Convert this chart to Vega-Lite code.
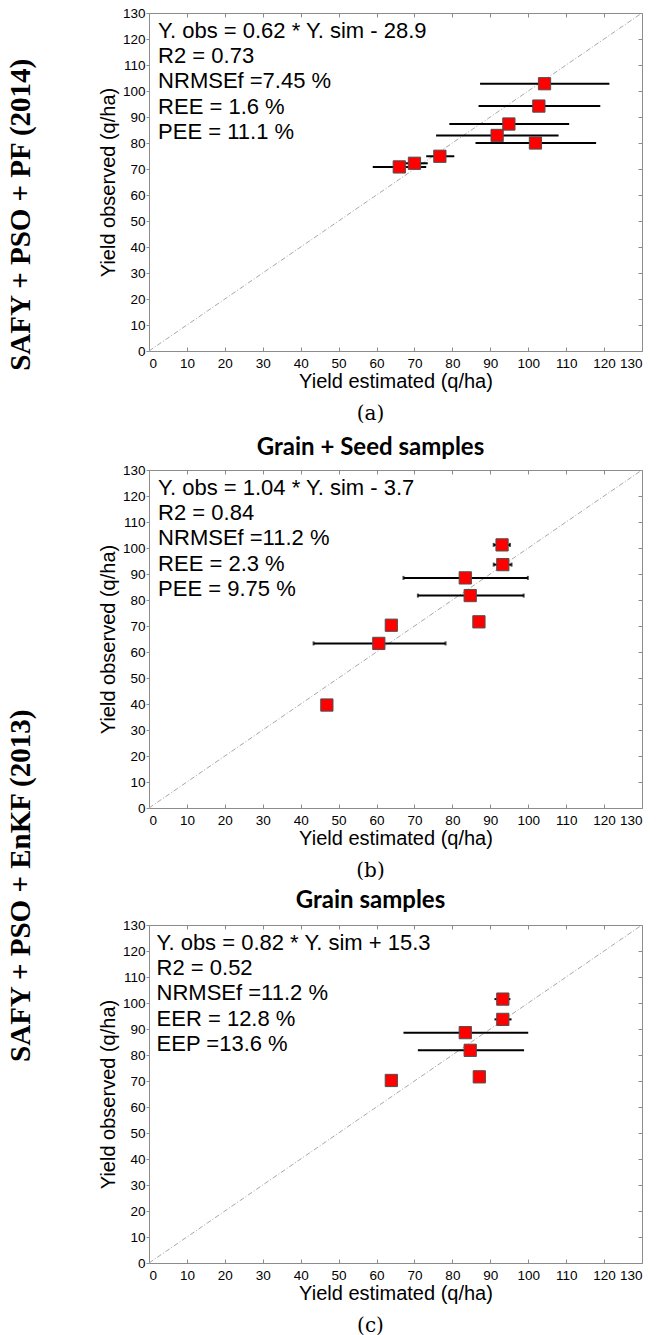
{
  "$schema": "https://vega.github.io/schema/vega-lite/v6.json",
  "padding": {"left": 6, "top": 5, "right": 5, "bottom": 2},
  "background": "white",
  "datasets": {
    "a": [
      {"est": 104.3, "obs": 102.8, "lo": 87.3, "hi": 121.4},
      {"est": 102.8, "obs": 94.2, "lo": 86.9, "hi": 119.0},
      {"est": 94.9, "obs": 87.3, "lo": 79.2, "hi": 110.8},
      {"est": 91.8, "obs": 82.9, "lo": 75.7, "hi": 108.0},
      {"est": 101.9, "obs": 80.0, "lo": 86.1, "hi": 117.9},
      {"est": 76.7, "obs": 74.9, "lo": 73.1, "hi": 80.5},
      {"est": 70.0, "obs": 72.2, "lo": 66.5, "hi": 73.5},
      {"est": 66.0, "obs": 70.8, "lo": 59.0, "hi": 73.1}
    ],
    "b": [
      {"est": 93.1, "obs": 101.2, "lo": 90.9, "hi": 95.2},
      {"est": 93.3, "obs": 93.6, "lo": 90.9, "hi": 95.6},
      {"est": 83.4, "obs": 88.5, "lo": 67.1, "hi": 99.9},
      {"est": 84.7, "obs": 81.7, "lo": 70.9, "hi": 98.8},
      {"est": 87.0, "obs": 71.6, "lo": null, "hi": null},
      {"est": 63.9, "obs": 70.3, "lo": null, "hi": null},
      {"est": 60.6, "obs": 63.3, "lo": 43.4, "hi": 78.2},
      {"est": 46.9, "obs": 39.6, "lo": null, "hi": null}
    ],
    "c": [
      {"est": 93.3, "obs": 101.5, "lo": 91.1, "hi": 95.3},
      {"est": 93.3, "obs": 93.7, "lo": 91.1, "hi": 95.6},
      {"est": 83.4, "obs": 88.6, "lo": 67.1, "hi": 100.0},
      {"est": 84.7, "obs": 81.8, "lo": 70.9, "hi": 98.9},
      {"est": 87.1, "obs": 71.6, "lo": null, "hi": null},
      {"est": 63.9, "obs": 70.2, "lo": null, "hi": null}
    ],
    "notes": [
      {"panel": "a", "lines": ["Y. obs = 0.62 * Y. sim - 28.9", "R2 = 0.73", "NRMSEf =7.45 %", "REE = 1.6 %", "PEE = 11.1 %"]},
      {"panel": "b", "lines": ["Y. obs = 1.04 * Y. sim - 3.7", "R2 = 0.84", "NRMSEf =11.2 %", "REE = 2.3 %", "PEE = 9.75 %"]},
      {"panel": "c", "lines": ["Y. obs = 0.82 * Y. sim + 15.3", "R2 = 0.52", "NRMSEf =11.2 %", "EER = 12.8 %", "EEP =13.6 %"]}
    ],
    "one": [{"k": 1}]
  },
  "vconcat": [
    {
      "title": {"text": "SAFY + PSO + PF (2014)", "orient": "left", "font": "Liberation Serif", "fontSize": 29, "fontWeight": "bold", "anchor": "middle", "frame": "bounds", "offset": 62, "color": "#000"},
      "vconcat": [
        {
          "width": 493, "height": 338,
          "title": {"text": "(a)", "orient": "bottom", "font": "DejaVu Serif", "fontSize": 20, "fontWeight": "normal", "anchor": "middle", "frame": "bounds", "offset": 12, "color": "#000"},
          "resolve": {"axis": {"x": "independent", "y": "independent"}},
          "layer": [
            {
              "data": {"name": "one"},
              "mark": {"type": "rule", "color": "#a8a8a8", "strokeWidth": 1, "strokeDash": [5, 2, 1, 2]},
              "encoding": {
                "x": {"datum": 0, "type": "quantitative", "scale": {"domain": [0, 130], "nice": false}, "axis": {"orient": "top", "labels": false, "tickSize": -4, "title": null, "values": [0,10,20,30,40,50,60,70,80,90,100,110,120,130]}},
                "y": {"datum": 0, "type": "quantitative", "scale": {"domain": [0, 130], "nice": false}, "axis": {"orient": "right", "labels": false, "tickSize": -4, "title": null, "values": [0,10,20,30,40,50,60,70,80,90,100,110,120,130]}},
                "x2": {"datum": 130},
                "y2": {"datum": 130}
              }
            },
            {
              "data": {"name": "a"},
              "mark": {"type": "rule", "color": "#000", "strokeWidth": 2},
              "encoding": {
                "x": {"field": "lo", "type": "quantitative", "scale": {"domain": [0, 130], "nice": false}, "axis": null},
                "x2": {"field": "hi"},
                "y": {"field": "obs", "type": "quantitative", "scale": {"domain": [0, 130], "nice": false}, "axis": null}
              }
            },
            {
              "data": {"name": "a"},
              "mark": {"type": "point", "shape": "square", "filled": true, "size": 150, "color": "#ff0000", "stroke": "#505050", "strokeWidth": 1, "opacity": 1},
              "encoding": {
                "x": {"field": "est", "type": "quantitative", "scale": {"domain": [0, 130], "nice": false}, "axis": {"orient": "bottom", "values": [0,10,20,30,40,50,60,70,80,90,100,110,120,130], "tickSize": -4, "labelPadding": 9, "title": "Yield estimated (q/ha)", "titlePadding": 2}},
                "y": {"field": "obs", "type": "quantitative", "scale": {"domain": [0, 130], "nice": false}, "axis": {"orient": "left", "values": [0,10,20,30,40,50,60,70,80,90,100,110,120,130], "tickSize": 3, "labelPadding": 1, "title": "Yield observed (q/ha)", "titlePadding": 4}}
              }
            },
            {
              "data": {"name": "notes"},
              "transform": [{"filter": "datum.panel === 'a'"}],
              "mark": {"type": "text", "align": "left", "baseline": "alphabetic", "font": "Liberation Sans", "fontSize": 22, "lineHeight": 25.3, "color": "#000"},
              "encoding": {
                "x": {"datum": 2.4, "type": "quantitative", "scale": {"domain": [0, 130], "nice": false}, "axis": null},
                "y": {"datum": 120.5, "type": "quantitative", "scale": {"domain": [0, 130], "nice": false}, "axis": null},
                "text": {"field": "lines"}
              }
            }
          ]
        }
      ]
    },
    {
      "title": {"text": "SAFY + PSO + EnKF (2013)", "orient": "left", "font": "Liberation Serif", "fontSize": 29, "fontWeight": "bold", "anchor": "middle", "frame": "bounds", "offset": 62, "color": "#000"},
      "spacing": 7,
      "vconcat": [
        {
          "title": {"text": "(b)", "orient": "bottom", "font": "DejaVu Serif", "fontSize": 20, "fontWeight": "normal", "anchor": "middle", "frame": "bounds", "offset": 12, "color": "#000"},
          "vconcat": [
            {
              "width": 493, "height": 338,
              "title": {"text": "Grain + Seed samples", "orient": "top", "font": "Lato", "fontSize": 24, "fontWeight": "bold", "anchor": "middle", "frame": "bounds", "offset": 3, "color": "#000"},
              "resolve": {"axis": {"x": "independent", "y": "independent"}},
              "layer": [
                {
                  "data": {"name": "one"},
                  "mark": {"type": "rule", "color": "#a8a8a8", "strokeWidth": 1, "strokeDash": [5, 2, 1, 2]},
                  "encoding": {
                    "x": {"datum": 0, "type": "quantitative", "scale": {"domain": [0, 130], "nice": false}, "axis": {"orient": "top", "labels": false, "tickSize": -4, "title": null, "values": [0,10,20,30,40,50,60,70,80,90,100,110,120,130]}},
                    "y": {"datum": 0, "type": "quantitative", "scale": {"domain": [0, 130], "nice": false}, "axis": {"orient": "right", "labels": false, "tickSize": -4, "title": null, "values": [0,10,20,30,40,50,60,70,80,90,100,110,120,130]}},
                    "x2": {"datum": 130},
                    "y2": {"datum": 130}
                  }
                },
                {
                  "data": {"name": "b"},
                  "mark": {"type": "rule", "color": "#000", "strokeWidth": 2},
                  "encoding": {
                    "x": {"field": "lo", "type": "quantitative", "scale": {"domain": [0, 130], "nice": false}, "axis": null},
                    "x2": {"field": "hi"},
                    "y": {"field": "obs", "type": "quantitative", "scale": {"domain": [0, 130], "nice": false}, "axis": null}
                  }
                },
                {
                  "data": {"name": "b"},
                  "mark": {"type": "tick", "orient": "vertical", "color": "#000", "size": 4, "thickness": 2},
                  "encoding": {
                    "x": {"field": "lo", "type": "quantitative", "scale": {"domain": [0, 130], "nice": false}, "axis": null},
                    "y": {"field": "obs", "type": "quantitative", "scale": {"domain": [0, 130], "nice": false}, "axis": null}
                  }
                },
                {
                  "data": {"name": "b"},
                  "mark": {"type": "tick", "orient": "vertical", "color": "#000", "size": 4, "thickness": 2},
                  "encoding": {
                    "x": {"field": "hi", "type": "quantitative", "scale": {"domain": [0, 130], "nice": false}, "axis": null},
                    "y": {"field": "obs", "type": "quantitative", "scale": {"domain": [0, 130], "nice": false}, "axis": null}
                  }
                },
                {
                  "data": {"name": "b"},
                  "mark": {"type": "point", "shape": "square", "filled": true, "size": 150, "color": "#ff0000", "stroke": "#505050", "strokeWidth": 1, "opacity": 1},
                  "encoding": {
                    "x": {"field": "est", "type": "quantitative", "scale": {"domain": [0, 130], "nice": false}, "axis": {"orient": "bottom", "values": [0,10,20,30,40,50,60,70,80,90,100,110,120,130], "tickSize": -4, "labelPadding": 9, "title": "Yield estimated (q/ha)", "titlePadding": 2}},
                    "y": {"field": "obs", "type": "quantitative", "scale": {"domain": [0, 130], "nice": false}, "axis": {"orient": "left", "values": [0,10,20,30,40,50,60,70,80,90,100,110,120,130], "tickSize": 3, "labelPadding": 1, "title": "Yield observed (q/ha)", "titlePadding": 4}}
                  }
                },
                {
                  "data": {"name": "notes"},
                  "transform": [{"filter": "datum.panel === 'b'"}],
                  "mark": {"type": "text", "align": "left", "baseline": "alphabetic", "font": "Liberation Sans", "fontSize": 22, "lineHeight": 25.3, "color": "#000"},
                  "encoding": {
                    "x": {"datum": 2.4, "type": "quantitative", "scale": {"domain": [0, 130], "nice": false}, "axis": null},
                    "y": {"datum": 120.5, "type": "quantitative", "scale": {"domain": [0, 130], "nice": false}, "axis": null},
                    "text": {"field": "lines"}
                  }
                }
              ]
            }
          ]
        },
        {
          "title": {"text": "(c)", "orient": "bottom", "font": "DejaVu Serif", "fontSize": 20, "fontWeight": "normal", "anchor": "middle", "frame": "bounds", "offset": 12, "color": "#000"},
          "vconcat": [
            {
              "width": 493, "height": 338,
              "title": {"text": "Grain samples", "orient": "top", "font": "Lato", "fontSize": 24, "fontWeight": "bold", "anchor": "middle", "frame": "bounds", "offset": 5, "color": "#000"},
              "resolve": {"axis": {"x": "independent", "y": "independent"}},
              "layer": [
                {
                  "data": {"name": "one"},
                  "mark": {"type": "rule", "color": "#a8a8a8", "strokeWidth": 1, "strokeDash": [5, 2, 1, 2]},
                  "encoding": {
                    "x": {"datum": 0, "type": "quantitative", "scale": {"domain": [0, 130], "nice": false}, "axis": {"orient": "top", "labels": false, "tickSize": -4, "title": null, "values": [0,10,20,30,40,50,60,70,80,90,100,110,120,130]}},
                    "y": {"datum": 0, "type": "quantitative", "scale": {"domain": [0, 130], "nice": false}, "axis": {"orient": "right", "labels": false, "tickSize": -4, "title": null, "values": [0,10,20,30,40,50,60,70,80,90,100,110,120,130]}},
                    "x2": {"datum": 130},
                    "y2": {"datum": 130}
                  }
                },
                {
                  "data": {"name": "c"},
                  "mark": {"type": "rule", "color": "#000", "strokeWidth": 2},
                  "encoding": {
                    "x": {"field": "lo", "type": "quantitative", "scale": {"domain": [0, 130], "nice": false}, "axis": null},
                    "x2": {"field": "hi"},
                    "y": {"field": "obs", "type": "quantitative", "scale": {"domain": [0, 130], "nice": false}, "axis": null}
                  }
                },
                {
                  "data": {"name": "c"},
                  "mark": {"type": "point", "shape": "square", "filled": true, "size": 150, "color": "#ff0000", "stroke": "#505050", "strokeWidth": 1, "opacity": 1},
                  "encoding": {
                    "x": {"field": "est", "type": "quantitative", "scale": {"domain": [0, 130], "nice": false}, "axis": {"orient": "bottom", "values": [0,10,20,30,40,50,60,70,80,90,100,110,120,130], "tickSize": -4, "labelPadding": 9, "title": "Yield estimated (q/ha)", "titlePadding": 2}},
                    "y": {"field": "obs", "type": "quantitative", "scale": {"domain": [0, 130], "nice": false}, "axis": {"orient": "left", "values": [0,10,20,30,40,50,60,70,80,90,100,110,120,130], "tickSize": 3, "labelPadding": 1, "title": "Yield observed (q/ha)", "titlePadding": 4}}
                  }
                },
                {
                  "data": {"name": "notes"},
                  "transform": [{"filter": "datum.panel === 'c'"}],
                  "mark": {"type": "text", "align": "left", "baseline": "alphabetic", "font": "Liberation Sans", "fontSize": 22, "lineHeight": 25.3, "color": "#000"},
                  "encoding": {
                    "x": {"datum": 2.0, "type": "quantitative", "scale": {"domain": [0, 130], "nice": false}, "axis": null},
                    "y": {"datum": 120.5, "type": "quantitative", "scale": {"domain": [0, 130], "nice": false}, "axis": null},
                    "text": {"field": "lines"}
                  }
                }
              ]
            }
          ]
        }
      ]
    }
  ],
  "spacing": 11,
  "config": {
    "view": {"stroke": "#8c8c8c", "strokeWidth": 1},
    "axis": {
      "domain": false,
      "grid": false,
      "labelFont": "Liberation Sans",
      "labelFontSize": 13.5,
      "labelColor": "#000",
      "tickColor": "#8c8c8c",
      "tickWidth": 1,
      "titleFont": "Liberation Sans",
      "titleFontSize": 20,
      "titleFontWeight": "normal",
      "titleColor": "#000"
    },
    "concat": {"spacing": 10}
  }
}
